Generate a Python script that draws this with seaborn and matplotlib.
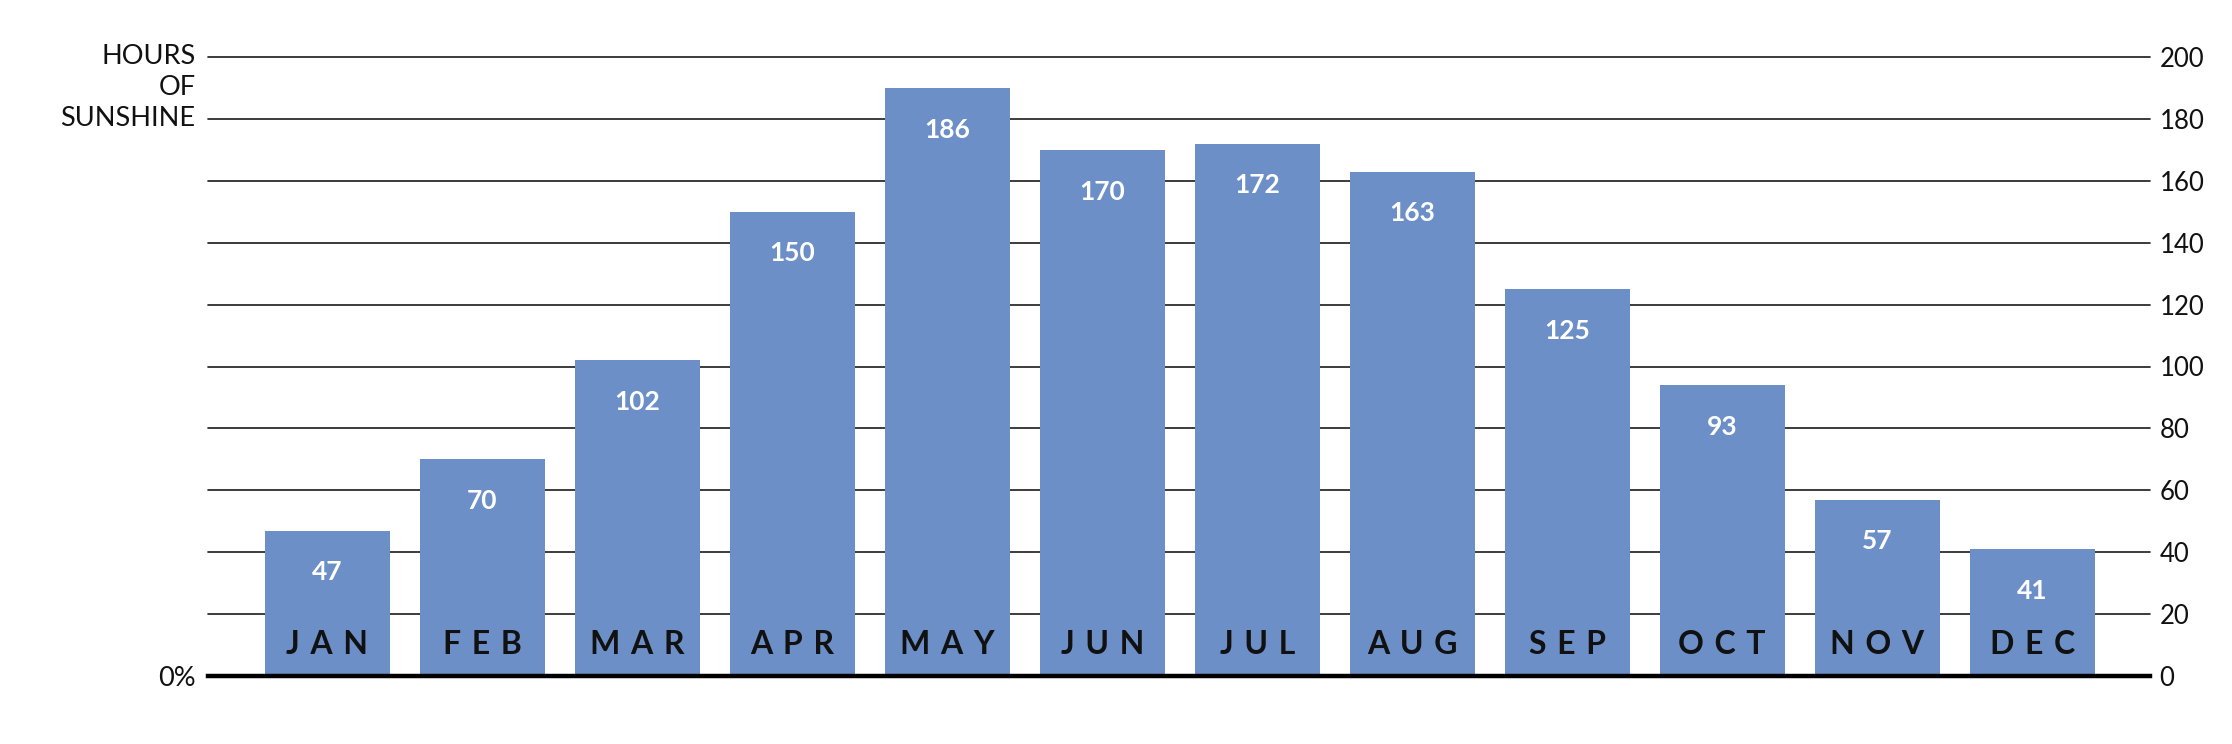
import matplotlib
matplotlib.use("Agg")
import matplotlib.pyplot as plt
import seaborn as sns
import pandas as pd

# ---- data ----
months = ["JAN", "FEB", "MAR", "APR", "MAY", "JUN", "JUL", "AUG", "SEP", "OCT", "NOV", "DEC"]
bar_hours = [47, 70, 102, 150, 190, 170, 172, 163, 125, 94, 57, 41]      # bar lengths as drawn
label_hours = [47, 70, 102, 150, 186, 170, 172, 163, 125, 93, 57, 41]    # printed values
y_ticks = [0, 20, 40, 60, 80, 100, 120, 140, 160, 180, 200]
left_title = ["HOURS", "OF", "SUNSHINE"]
left_title_y = [200, 190, 180]
zero_label = "0%"

BAR_COLOR = "#6C8FC8"

sns.set_theme(style="white")
plt.rcParams["font.family"] = ["Lato", "DejaVu Sans"]

fig = plt.figure(figsize=(22.32, 7.44), dpi=100)
ax = fig.add_axes([208 / 2232, 1 - 676 / 744, (2150 - 208) / 2232, (676 - 57) / 744])

df = pd.DataFrame({"month": months, "hours": bar_hours})
sns.barplot(data=df, x="month", y="hours", color=BAR_COLOR, saturation=1,
            width=0.806, ax=ax, zorder=2)
for p in ax.patches:
    p.set_edgecolor("none")

ax.set_xlim(-0.77, 11.76)
ax.set_ylim(0, 200)
ax.set_xlabel("")
ax.set_ylabel("")
ax.set_xticks([])

ax.yaxis.tick_right()
ax.set_yticks(y_ticks)
ax.set_yticklabels([str(v) for v in y_ticks], fontsize=18.5, fontweight="normal")
ax.tick_params(axis="y", length=0, pad=7, right=False, labelcolor="#111111")

ax.yaxis.grid(True, color="#1a1a1a", linewidth=1.2, zorder=0)
ax.set_axisbelow(True)
for g in ax.get_ygridlines():
    g.set_clip_on(False)

for s in ["top", "left", "right"]:
    ax.spines[s].set_visible(False)
ax.spines["bottom"].set_visible(True)
ax.spines["bottom"].set_color("black")
ax.spines["bottom"].set_linewidth(3.2)
ax.spines["bottom"].set_zorder(3)

# value labels inside bars
for i, (h, lab) in enumerate(zip(bar_hours, label_hours)):
    ax.annotate(str(lab), xy=(i, h), xytext=(0, -30), textcoords="offset points",
                ha="center", va="center", fontsize=19, fontweight="bold",
                color="white", zorder=4)

# month names inside bars near the bottom
for i, m in enumerate(months):
    ax.annotate("\u2004".join(m), xy=(i, 0), xytext=(0, 22.5), textcoords="offset points",
                ha="center", va="center", fontsize=23, fontweight="bold",
                color="#111111", zorder=4)

# left side title and zero label
for t, yv in zip(left_title, left_title_y):
    ax.annotate(t, xy=(0, yv), xycoords=("axes fraction", "data"), xytext=(-9, 0),
                textcoords="offset points", ha="right", va="center",
                fontsize=19.5, color="#111111", annotation_clip=False)
ax.annotate(zero_label, xy=(0, 0), xycoords=("axes fraction", "data"), xytext=(-9, -2),
            textcoords="offset points", ha="right", va="center",
            fontsize=19.5, color="#111111", annotation_clip=False)

fig.savefig("out.png", dpi=100, facecolor="white")
